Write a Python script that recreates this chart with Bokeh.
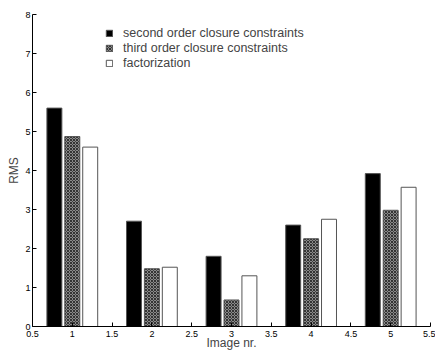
from bokeh.plotting import figure
from bokeh.models import ColumnDataSource, FixedTicker, Legend, LegendItem
from bokeh.embed import file_html
from bokeh.resources import INLINE

images = [1, 2, 3, 4, 5]
second_order = [5.6, 2.7, 1.8, 2.6, 3.92]
third_order = [4.87, 1.48, 0.68, 2.25, 2.98]
factorization = [4.6, 1.52, 1.3, 2.75, 3.57]
series_names = ["second order closure constraints", "third order closure constraints", "factorization"]
x_ticks = [0.5, 1, 1.5, 2, 2.5, 3, 3.5, 4, 4.5, 5, 5.5]
y_ticks = [0, 1, 2, 3, 4, 5, 6, 7, 8]

p = figure(width=435, height=352, x_range=(0.5, 5.5), y_range=(0, 8),
           output_backend="svg", toolbar_location=None,
           min_border_left=32, min_border_right=5, min_border_top=14, min_border_bottom=22)
p.outline_line_color = None
p.grid.visible = False
p.background_fill_color = "white"
p.border_fill_color = "white"

off = 0.225
w = 0.188
src = ColumnDataSource(dict(
    x1=[i - off for i in images], x2=list(images), x3=[i + off for i in images],
    s=second_order, t=third_order, f=factorization))

r1 = p.vbar(x="x1", top="s", width=w, source=src, fill_color="black", line_color="#555555", line_width=1)
r2 = p.vbar(x="x2", top="t", width=w, source=src, fill_color="#8a8a8a", line_color="#555555", line_width=1,
            hatch_pattern="x", hatch_color="#333333", hatch_scale=3, hatch_weight=1)
r3 = p.vbar(x="x3", top="f", width=w, source=src, fill_color="white", line_color="#555555", line_width=1)

legend = Legend(items=[LegendItem(label=series_names[0], renderers=[r1]),
                       LegendItem(label=series_names[1], renderers=[r2]),
                       LegendItem(label=series_names[2], renderers=[r3])],
                location=(73, 256))
legend.border_line_color = None
legend.background_fill_alpha = 0
legend.label_text_font = "Liberation Sans"
legend.label_text_font_size = "12.5px"
legend.glyph_width = 8
legend.glyph_height = 8
legend.label_standoff = 10
legend.spacing = 1
legend.label_height = 14
legend.padding = 0
legend.margin = 0
p.add_layout(legend)

for ax in (p.xaxis[0], p.yaxis[0]):
    ax.major_tick_in = 4
    ax.major_tick_out = 0
    ax.minor_tick_in = 0
    ax.minor_tick_out = 0
    ax.axis_line_color = "black"
    ax.major_tick_line_color = "black"
    ax.major_label_text_font = "Liberation Sans"
    ax.major_label_text_font_size = "9px"
    ax.major_label_text_color = "black"
    ax.axis_label_text_font = "Liberation Sans"
    ax.axis_label_text_font_size = "12px"
    ax.axis_label_text_font_style = "normal"
    ax.major_label_standoff = 2
    ax.axis_label_standoff = 1

p.xaxis[0].major_label_standoff = 4
p.xaxis[0].axis_label_standoff = -4
p.xaxis[0].ticker = FixedTicker(ticks=x_ticks)
p.yaxis[0].ticker = FixedTicker(ticks=y_ticks)
p.xaxis[0].major_label_overrides = {t: ("%g" % t) for t in x_ticks}
p.xaxis[0].axis_label = "Image nr."
p.yaxis[0].axis_label = "RMS"

open("out.html", "w").write(file_html(p, INLINE))
